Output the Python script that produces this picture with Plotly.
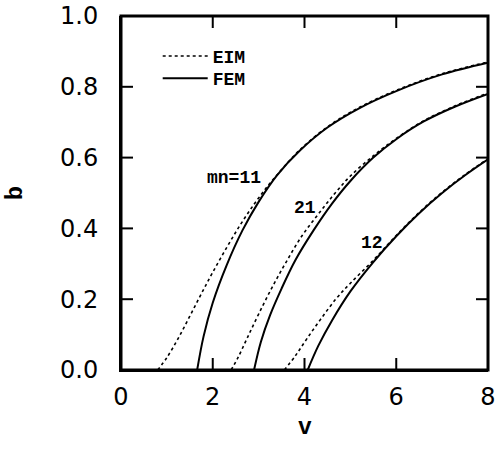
import plotly.graph_objects as go

# Data (v, b)
fem11_v = [1.66, 1.80, 2.00, 2.30, 2.65, 3.00, 3.40, 3.90, 4.50, 5.20, 6.00, 7.00, 8.00]
fem11_b = [0.0, 0.095, 0.190, 0.295, 0.395, 0.475, 0.550, 0.620, 0.685, 0.740, 0.788, 0.835, 0.868]
eim11_v = [0.80, 1.00, 1.25, 1.50, 1.75, 2.00, 2.30, 2.60, 2.90, 3.20, 3.50, 3.90, 4.50, 5.20, 6.00, 7.00, 8.00]
eim11_b = [0.0, 0.035, 0.090, 0.152, 0.215, 0.276, 0.345, 0.410, 0.468, 0.520, 0.566, 0.622, 0.687, 0.742, 0.790, 0.837, 0.870]

fem21_v = [2.90, 3.05, 3.25, 3.50, 3.80, 4.20, 4.60, 5.00, 5.50, 6.00, 6.60, 7.30, 8.00]
fem21_b = [0.0, 0.080, 0.155, 0.230, 0.310, 0.395, 0.470, 0.534, 0.600, 0.652, 0.702, 0.745, 0.780]
eim21_v = [2.40, 2.55, 2.75, 3.00, 3.30, 3.60, 3.95, 4.30, 4.65, 5.00, 5.50, 6.00, 6.60, 7.30, 8.00]
eim21_b = [0.0, 0.035, 0.090, 0.158, 0.235, 0.305, 0.380, 0.440, 0.497, 0.548, 0.605, 0.654, 0.704, 0.747, 0.782]

fem12_v = [4.07, 4.30, 4.60, 5.00, 5.50, 6.00, 6.50, 7.00, 7.50, 8.00]
fem12_b = [0.0, 0.068, 0.140, 0.222, 0.305, 0.378, 0.443, 0.500, 0.550, 0.595]
eim12_v = [3.56, 3.80, 4.05, 4.35, 4.70, 5.00, 5.50, 6.00, 6.50, 7.00, 7.50, 8.00]
eim12_b = [0.0, 0.040, 0.088, 0.143, 0.203, 0.245, 0.310, 0.380, 0.445, 0.502, 0.552, 0.597]

label_text = ["mn=11", "21", "12"]
label_v = [2.47, 4.01, 5.47]
label_b = [0.541, 0.457, 0.358]

x_ticks = [0, 2, 4, 6, 8]
y_ticks = [0.0, 0.2, 0.4, 0.6, 0.8, 1.0]
y_tick_text = ["0.0", "0.2", "0.4", "0.6", "0.8", "1.0"]

MONO = "Liberation Mono"
SANS = "DejaVu Sans"

W, H = 498, 461
ML, MR, MT, MB = 121, 10, 16, 91
TICK_PX = 12
tick_fx = TICK_PX / (W - ML - MR)   # tick length as a fraction of plot width
tick_fy = TICK_PX / (H - MT - MB)   # tick length as a fraction of plot height

fig = go.Figure()
eim_sets = [(eim11_v, eim11_b), (eim21_v, eim21_b), (eim12_v, eim12_b)]
fem_sets = [(fem11_v, fem11_b), (fem21_v, fem21_b), (fem12_v, fem12_b)]

for i, (vx, by) in enumerate(eim_sets):
    fig.add_trace(go.Scatter(x=vx, y=by, mode="lines", name="<b>EIM</b>",
                             line=dict(color="black", width=1.6, dash="dot",
                                       shape="spline", smoothing=1.0),
                             legend="legend", showlegend=(i == 0), hoverinfo="skip"))
for i, (vx, by) in enumerate(fem_sets):
    fig.add_trace(go.Scatter(x=vx, y=by, mode="lines", name="<b>FEM</b>",
                             line=dict(color="black", width=2, shape="spline", smoothing=1.0),
                             legend="legend2", showlegend=(i == 0), hoverinfo="skip"))

# frame around the plotting area
fig.add_shape(type="rect", xref="paper", yref="paper", x0=0, x1=1, y0=0, y1=1,
              line=dict(color="black", width=3), layer="above")
# inside tick marks on all four sides
for t in x_ticks:
    fig.add_shape(type="line", xref="x", yref="paper", x0=t, x1=t, y0=0, y1=tick_fy,
                  line=dict(color="black", width=2), layer="above")
    fig.add_shape(type="line", xref="x", yref="paper", x0=t, x1=t, y0=1, y1=1 - tick_fy,
                  line=dict(color="black", width=2), layer="above")
for t in y_ticks:
    fig.add_shape(type="line", xref="paper", yref="y", x0=0, x1=tick_fx, y0=t, y1=t,
                  line=dict(color="black", width=2), layer="above")
    fig.add_shape(type="line", xref="paper", yref="y", x0=1, x1=1 - tick_fx, y0=t, y1=t,
                  line=dict(color="black", width=2), layer="above")

for t, vx, by in zip(label_text, label_v, label_b):
    fig.add_annotation(x=vx, y=by, text="<b>%s</b>" % t, showarrow=False,
                       font=dict(family=MONO, size=18, color="black"))

fig.add_annotation(xref="paper", yref="paper", x=0.5, y=-0.165, xanchor="center",
                   yanchor="middle", text="<b>v</b>", showarrow=False,
                   font=dict(family=MONO, size=23, color="black"))
fig.add_annotation(xref="paper", yref="paper", x=-0.288, y=0.5, xanchor="center",
                   yanchor="middle", text="<b>b</b>", textangle=-90, showarrow=False,
                   font=dict(family=MONO, size=24, color="black"))

leg_common = dict(xanchor="left", yanchor="middle", bgcolor="rgba(0,0,0,0)",
                  font=dict(family=MONO, size=18, color="black"), itemwidth=45)
fig.update_layout(
    width=W, height=H,
    margin=dict(l=ML, r=MR, t=MT, b=MB, autoexpand=False),
    paper_bgcolor="white", plot_bgcolor="white",
    showlegend=True,
    legend=dict(x=0.1, y=0.886, **leg_common),
    legend2=dict(x=0.1, y=0.823, **leg_common),
)
axis_common = dict(ticks="", showline=True, linecolor="black", linewidth=2,
                   showgrid=False, zeroline=False, automargin=False,
                   tickfont=dict(family=SANS, size=24, color="black"))
fig.update_layout(
    xaxis=dict(range=[0, 8], tickvals=x_ticks, ticklabelstandoff=4, **axis_common),
    yaxis=dict(range=[0, 1.0], tickvals=y_ticks, ticktext=y_tick_text,
               ticklabelstandoff=16, **axis_common),
)

fig.write_html("out.html")
